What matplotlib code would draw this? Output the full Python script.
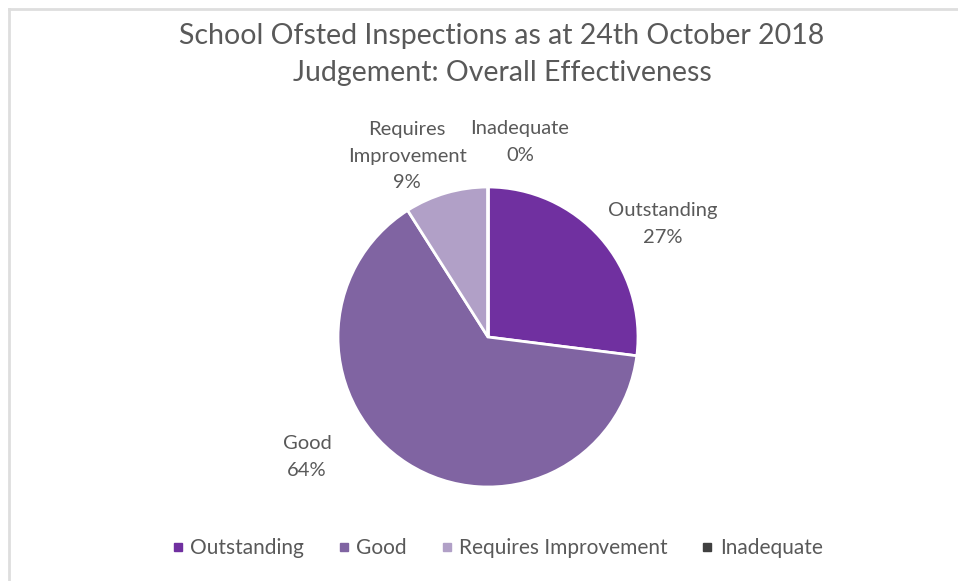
import matplotlib.pyplot as plt
from matplotlib.lines import Line2D

plt.rcParams['font.family'] = ['Lato', 'DejaVu Sans']

categories = ['Outstanding', 'Good', 'Requires Improvement', 'Inadequate']
shares = [27, 64, 9, 0.0001]
pct_labels = ['27%', '64%', '9%', '0%']
label_names = ['Outstanding', 'Good', 'Requires\nImprovement', 'Inadequate']
colors = ['#7030A0', '#8064A2', '#B1A0C7', '#404040']
TEXT = '#595959'


def main():
    fig = plt.figure(figsize=(9.58, 5.81), dpi=100)
    W, H = 958, 581

    # pie axes: centre (488, 337) px, radius 150 px
    cx, cy, r = 488, 337, 150
    ax = fig.add_axes([(cx - r) / W, (H - cy - r) / H, 2 * r / W, 2 * r / H])
    ax.pie(shares, colors=colors, startangle=90, counterclock=False, radius=1,
           wedgeprops=dict(edgecolor='white', linewidth=2))
    ax.set_xlim(-1, 1)
    ax.set_ylim(-1, 1)
    ax.set_aspect('equal')
    ax.axis('off')

    # data label positions in pixels
    label_px = [(663, 224), (307, 457), (407, 156), (520, 142)]
    for name, pct, (px, py) in zip(label_names, pct_labels, label_px):
        ax.text((px - cx) / r, (cy - py) / r, f'{name}\n{pct}', ha='center', va='center',
                fontsize=14.5, color=TEXT, linespacing=1.65, clip_on=False)

    fig.text(0.524, 1 - 36 / H, 'School Ofsted Inspections as at 24th October 2018',
             ha='center', va='center', fontsize=20.5, color=TEXT)
    fig.text(0.524, 1 - 73 / H, 'Judgement: Overall Effectiveness',
             ha='center', va='center', fontsize=20.5, color=TEXT)

    handles = [Line2D([], [], marker='s', linestyle='none', markersize=6,
                      markerfacecolor=c, markeredgecolor=c) for c in colors]
    fig.legend(handles, categories, loc='center', bbox_to_anchor=(0.519, 1 - 548 / H),
               ncol=4, frameon=False, fontsize=15, labelcolor=TEXT,
               handlelength=0.6, handletextpad=0.3, columnspacing=1.6)

    # chart frame (top and left edges visible)
    fig.add_artist(Line2D([9 / W, 1], [1 - 9 / H, 1 - 9 / H], color='#dedede', linewidth=2))
    fig.add_artist(Line2D([9 / W, 9 / W], [0, 1 - 9 / H], color='#dedede', linewidth=2))

    fig.savefig('out.png', dpi=100, facecolor='white')


if __name__ == '__main__':
    main()
